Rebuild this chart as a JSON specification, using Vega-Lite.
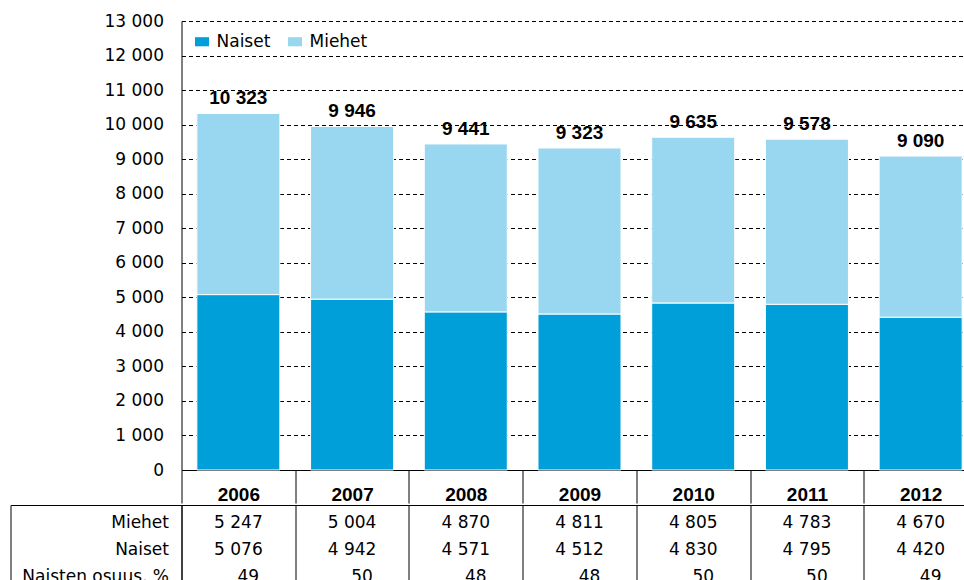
{
  "$schema": "https://vega.github.io/schema/vega-lite/v6.json",
  "padding": {"left": 9.5, "top": 12, "right": 0, "bottom": 0},
  "spacing": -13,
  "config": {
    "font": "DejaVu Sans",
    "locale": {"number": {"decimal": ",", "thousands": " ", "grouping": [3], "currency": ["", " €"]}},
    "view": {"stroke": null},
    "axis": {"labelColor": "black", "domainColor": "black", "tickColor": "black", "labelFont": "DejaVu Sans"},
    "legend": {"labelFont": "DejaVu Sans"}
  },
  "datasets": {
    "sukupuolet": [
      {"vuosi": "2006", "rivi": "Miehet", "arvo": 5247},
      {"vuosi": "2007", "rivi": "Miehet", "arvo": 5004},
      {"vuosi": "2008", "rivi": "Miehet", "arvo": 4870},
      {"vuosi": "2009", "rivi": "Miehet", "arvo": 4811},
      {"vuosi": "2010", "rivi": "Miehet", "arvo": 4805},
      {"vuosi": "2011", "rivi": "Miehet", "arvo": 4783},
      {"vuosi": "2012", "rivi": "Miehet", "arvo": 4670},
      {"vuosi": "2006", "rivi": "Naiset", "arvo": 5076},
      {"vuosi": "2007", "rivi": "Naiset", "arvo": 4942},
      {"vuosi": "2008", "rivi": "Naiset", "arvo": 4571},
      {"vuosi": "2009", "rivi": "Naiset", "arvo": 4512},
      {"vuosi": "2010", "rivi": "Naiset", "arvo": 4830},
      {"vuosi": "2011", "rivi": "Naiset", "arvo": 4795},
      {"vuosi": "2012", "rivi": "Naiset", "arvo": 4420}
    ],
    "osuus": [
      {"vuosi": "2006", "rivi": "Naisten osuus, %", "arvo": 49},
      {"vuosi": "2007", "rivi": "Naisten osuus, %", "arvo": 50},
      {"vuosi": "2008", "rivi": "Naisten osuus, %", "arvo": 48},
      {"vuosi": "2009", "rivi": "Naisten osuus, %", "arvo": 48},
      {"vuosi": "2010", "rivi": "Naisten osuus, %", "arvo": 50},
      {"vuosi": "2011", "rivi": "Naisten osuus, %", "arvo": 50},
      {"vuosi": "2012", "rivi": "Naisten osuus, %", "arvo": 49}
    ]
  },
  "vconcat": [
    {
      "width": 796,
      "height": 449,
      "data": {"name": "sukupuolet"},
      "encoding": {
        "x": {
          "field": "vuosi", "type": "nominal",
          "scale": {"paddingInner": 0, "paddingOuter": 0},
          "axis": {"title": null, "labelAngle": 0, "tickBand": "extent", "tickSize": 33, "labelPadding": -8.5, "labelBaseline": "middle", "labelFont": "Liberation Sans", "labelFontSize": 19, "labelFontWeight": "bold", "domainColor": "black"}
        }
      },
      "layer": [
        {
          "mark": {"type": "bar", "width": {"band": 0.73}, "stroke": "white", "strokeWidth": 1},
          "encoding": {
            "y": {
              "field": "arvo", "type": "quantitative", "stack": "zero",
              "scale": {"domain": [0, 13000], "nice": false},
              "axis": {"title": null, "values": [0, 1000, 2000, 3000, 4000, 5000, 6000, 7000, 8000, 9000, 10000, 11000, 12000, 13000], "format": ",d", "labelOverlap": false, "grid": true, "gridColor": "black", "gridDash": [4, 3], "gridOpacity": 1, "ticks": false, "labelPadding": 18, "labelFontSize": 17}
            },
            "color": {
              "field": "rivi", "type": "nominal",
              "scale": {"domain": ["Naiset", "Miehet"], "range": ["#009FDA", "#99D7F0"]},
              "legend": {"title": null, "orient": "none", "legendX": 12, "legendY": 12, "direction": "horizontal", "symbolType": "M-1,-0.65H1V0.65H-1Z", "symbolSize": 196, "symbolStrokeWidth": 0, "labelFontSize": 17, "labelColor": "black", "columnPadding": 16, "labelOffset": 6}
            },
            "order": {"field": "rivi", "sort": "descending"}
          }
        },
        {
          "transform": [{"aggregate": [{"op": "sum", "field": "arvo", "as": "yhteensa"}], "groupby": ["vuosi"]}],
          "mark": {"type": "text", "font": "Liberation Sans", "fontSize": 19, "fontWeight": "bold", "baseline": "alphabetic", "dy": -9, "color": "black"},
          "encoding": {
            "y": {
              "field": "yhteensa", "type": "quantitative",
              "axis": {"title": null, "values": [0, 1000, 2000, 3000, 4000, 5000, 6000, 7000, 8000, 9000, 10000, 11000, 12000, 13000], "format": ",d", "labelOverlap": false, "grid": true, "gridColor": "black", "gridDash": [4, 3], "gridOpacity": 1, "ticks": false, "labelPadding": 18, "labelFontSize": 17}
            },
            "text": {"field": "yhteensa", "type": "quantitative", "format": ",d"}
          }
        }
      ]
    },
    {
      "width": 796,
      "height": 81,
      "view": {"stroke": "black", "strokeWidth": 1},
      "layer": [
        {
          "data": {"name": "sukupuolet"},
          "mark": {"type": "text", "fontSize": 17, "dy": 4, "color": "black"},
          "encoding": {
            "x": {
              "field": "vuosi", "type": "nominal",
              "scale": {"paddingInner": 0, "paddingOuter": 0},
              "axis": {"title": null, "labels": false, "ticks": false, "domain": false, "grid": true, "tickBand": "extent", "gridColor": "black", "gridOpacity": 1}
            },
            "y": {
              "field": "rivi", "type": "nominal",
              "scale": {"domain": ["Miehet", "Naiset", "Naisten osuus, %"]},
              "axis": {"title": null, "orient": "left", "offset": 171, "domainColor": "black", "ticks": true, "tickBand": "extent", "tickSize": -171, "tickColor": "black", "tickOpacity": {"condition": {"test": "datum.extra", "value": 1}, "value": 0}, "labelPadding": 13, "labelFontSize": 17, "labelOffset": 4}
            },
            "text": {"field": "arvo", "type": "quantitative", "format": ",d"}
          }
        },
        {
          "data": {"name": "osuus"},
          "mark": {"type": "text", "fontSize": 17, "dy": 4, "dx": 10, "color": "black"},
          "encoding": {
            "x": {"field": "vuosi", "type": "nominal"},
            "y": {"field": "rivi", "type": "nominal"},
            "text": {"field": "arvo", "type": "quantitative"}
          }
        }
      ]
    }
  ]
}
